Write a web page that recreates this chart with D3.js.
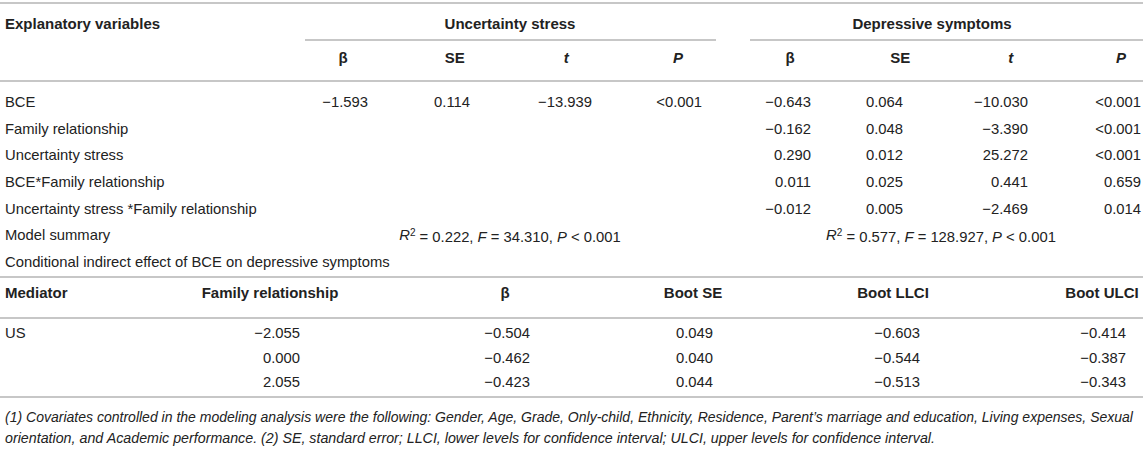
<!DOCTYPE html>
<html><head><meta charset="utf-8">
<script src="https://cdn.jsdelivr.net/npm/d3@7"></script>
<style>
html,body{margin:0;padding:0;background:#fff;}
svg{display:block;font-family:"Liberation Sans",Arial,Helvetica,sans-serif;}
</style></head>
<body><svg id="c" width="1143" height="463"></svg>
<script>
// ---- data ----
const groups = ["Uncertainty stress", "Depressive symptoms"];
const statCols = ["β", "SE", "t", "P"];
const topRows = ["BCE", "Family relationship", "Uncertainty stress", "BCE*Family relationship",
  "Uncertainty stress *Family relationship", "Model summary",
  "Conditional indirect effect of BCE on depressive symptoms"];
const usBeta = [-1.593];
const usSE = [0.114];
const usT = [-13.939];
const usP = ["<0.001"];
const dsBeta = [-0.643, -0.162, 0.290, 0.011, -0.012];
const dsSE = [0.064, 0.048, 0.012, 0.025, 0.005];
const dsT = [-10.030, -3.390, 25.272, 0.441, -2.469];
const dsP = ["<0.001", "<0.001", "<0.001", "0.659", "0.014"];
const modelR2 = [0.222, 0.577];
const modelF = [34.310, 128.927];
const modelP = ["< 0.001", "< 0.001"];
const bottomHeaders = ["Mediator", "Family relationship", "β", "Boot SE", "Boot LLCI", "Boot ULCI"];
const mediator = ["US", "", ""];
const familyLevels = [-2.055, 0.000, 2.055];
const indBeta = [-0.504, -0.462, -0.423];
const bootSE = [0.049, 0.040, 0.044];
const bootLLCI = [-0.603, -0.544, -0.513];
const bootULCI = [-0.414, -0.387, -0.343];
const footnotes = [
  "(1) Covariates controlled in the modeling analysis were the following: Gender, Age, Grade, Only-child, Ethnicity, Residence, Parent’s marriage and education, Living expenses, Sexual",
  "orientation, and Academic performance. (2) SE, standard error; LLCI, lower levels for confidence interval; ULCI, upper levels for confidence interval."
];

// ---- drawing ----
const svg = d3.select("#c");
const fmt = d3.format(".3f");
const txt = "#222", lineC = "#b4b4b4";
const fs = 14.8, fsb = 15;

const line = (x1, x2, y) => svg.append("line").attr("x1", x1).attr("x2", x2)
  .attr("y1", y).attr("y2", y).attr("stroke", lineC).attr("stroke-width", 1.6);
const text = (x, y, s, anchor, opts = {}) => svg.append("text").attr("x", x).attr("y", y)
  .attr("dy", "0.35em").attr("text-anchor", anchor).attr("font-size", opts.size || (opts.bold ? fsb : fs))
  .attr("font-weight", opts.bold ? "bold" : null).attr("font-style", opts.italic ? "italic" : null)
  .attr("fill", txt).text(s);

// scales
const yTop = d3.scalePoint().domain(topRows).range([102, 261.6]);
const groupX = d3.scaleOrdinal().domain(groups).range([510, 932]);
const colHeadX = [d3.scalePoint().domain(statCols).range([343, 678]), d3.scalePoint().domain(statCols).range([790, 1121])];
const colValX = [d3.scaleOrdinal().domain(statCols).range([368, 470, 592, 702]),
                 d3.scaleOrdinal().domain(statCols).range([811, 903, 1028, 1141])];
const subLine = [[305, 716], [750, 1143]];

// header lines
line(0, 1143, 3);
text(5, 24, "Explanatory variables", "start", {bold: true});
groups.forEach((g, i) => {
  text(groupX(g), 24, g, "middle", {bold: true});
  line(subLine[i][0], subLine[i][1], 40);
  statCols.forEach(c => text(colHeadX[i](c), 58, c, "middle",
    {bold: true, italic: (c === "t" || c === "P")}));
});
line(0, 1143, 81);

// row labels
topRows.forEach(r => text(5, yTop(r), r, "start"));

// values
const usCols = [usBeta.map(fmt), usSE.map(fmt), usT.map(fmt), usP];
const dsCols = [dsBeta.map(fmt), dsSE.map(fmt), dsT.map(fmt), dsP];
[usCols, dsCols].forEach((cols, gi) => {
  cols.forEach((vals, ci) => {
    vals.forEach((v, ri) => text(colValX[gi](statCols[ci]), yTop(topRows[ri]), v, "end"));
  });
});

// model summary
groups.forEach((g, i) => {
  const t = svg.append("text").attr("x", i === 0 ? 510 : 941).attr("y", yTop("Model summary"))
    .attr("dy", "0.35em").attr("text-anchor", "middle").attr("font-size", fs).attr("fill", txt);
  t.append("tspan").attr("font-style", "italic").text("R");
  t.append("tspan").attr("font-size", 10).attr("dy", "-0.45em").text("2");
  t.append("tspan").attr("dy", "0.45em").text(" = " + fmt(modelR2[i]) + ", ");
  t.append("tspan").attr("font-style", "italic").text("F");
  t.append("tspan").text(" = " + fmt(modelF[i]) + ", ");
  t.append("tspan").attr("font-style", "italic").text("P");
  t.append("tspan").text(" " + modelP[i]);
});

// bottom table
line(0, 1143, 277);
const bHeadX = d3.scaleOrdinal().domain(bottomHeaders).range([5, 270, 505, 693, 893, 1102]);
bottomHeaders.forEach((h, i) => text(bHeadX(h), 293, h, i === 0 ? "start" : "middle", {bold: true}));
line(0, 1143, 318);
const yBot = d3.scalePoint().domain(d3.range(familyLevels.length)).range([333, 382]);
const bValX = d3.scaleOrdinal().domain(bottomHeaders).range([5, 300, 530, 713, 920, 1126]);
const bCols = [mediator, familyLevels.map(fmt), indBeta.map(fmt), bootSE.map(fmt), bootLLCI.map(fmt), bootULCI.map(fmt)];
bCols.forEach((vals, ci) => vals.forEach((v, ri) =>
  text(bValX(bottomHeaders[ci]), yBot(ri), v, ci === 0 ? "start" : "end")));
line(0, 1143, 397);

// footnotes
const footLen = [1128, 930];
footnotes.forEach((f, i) => {
  text(5, 417 + i * 21, f, "start", {italic: true, size: 13.9})
    .attr("textLength", footLen[i]).attr("lengthAdjust", "spacingAndGlyphs");
});
</script></body></html>
